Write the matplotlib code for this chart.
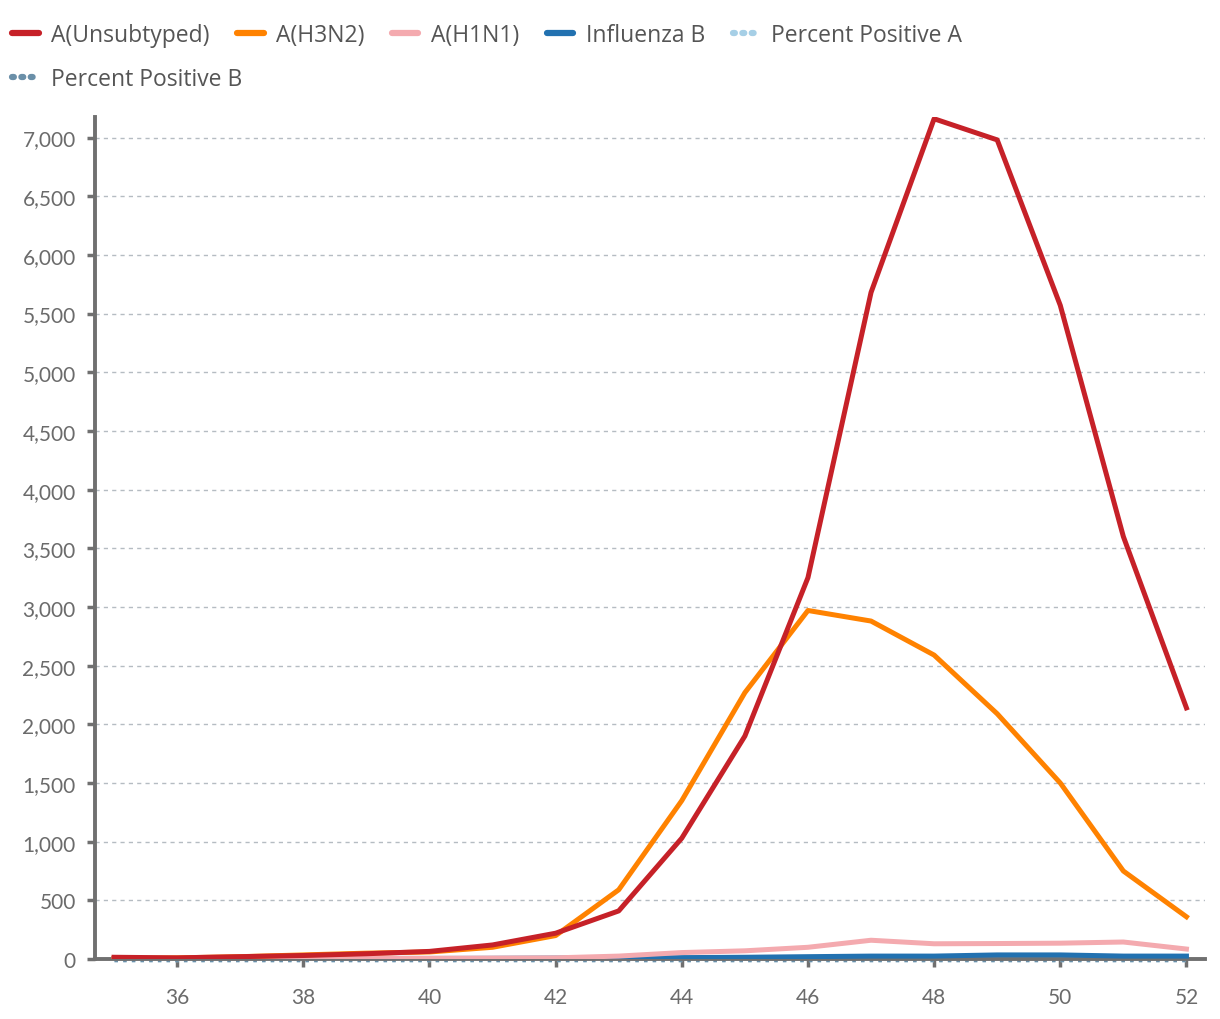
import matplotlib
matplotlib.use('Agg')
import matplotlib.pyplot as plt
from matplotlib.lines import Line2D
from matplotlib.ticker import FuncFormatter, MultipleLocator

plt.rcParams['font.family'] = ['Lato', 'DejaVu Sans']

weeks = list(range(35, 53))
unsubtyped = [15, 10, 20, 30, 45, 65, 120, 220, 410, 1030, 1900, 3250, 5680, 7160, 6980, 5570, 3600, 2140]
h3n2 = [5, 10, 20, 35, 50, 60, 100, 200, 590, 1350, 2270, 2970, 2880, 2590, 2090, 1500, 750, 360]
h1n1 = [2, 2, 3, 4, 5, 6, 8, 10, 25, 55, 70, 100, 160, 130, 132, 135, 145, 85]
flu_b = [3, 3, 4, 4, 5, 5, 6, 8, 10, 12, 15, 20, 25, 25, 35, 35, 25, 25]
pct_a = [-12] * 18
pct_b = [-10] * 18

series = [
    ('A(Unsubtyped)', unsubtyped, '#c62128', '-'),
    ('A(H3N2)', h3n2, '#ff8200', '-'),
    ('A(H1N1)', h1n1, '#f4aaaf', '-'),
    ('Influenza B', flu_b, '#2271b0', '-'),
]

fig = plt.figure(figsize=(12.2, 10.2), dpi=100)
ax = fig.add_axes([0.078, 0.0588, 0.91, 0.8255])

# percent positive lines sit under everything at the baseline
ax.plot(weeks, pct_a, color='#a6cfe6', lw=2.5, ls=(0, (1, 1.5)), zorder=1, clip_on=False)
ax.plot(weeks, pct_b, color='#6a8fa8', lw=2.5, ls=(0, (1, 1.5)), zorder=1, clip_on=False)

for name, vals, col, ls in reversed(series):
    ax.plot(weeks, vals, color=col, lw=3.6, ls=ls, zorder=3)

ax.set_xlim(34.7, 52.3)
ax.set_ylim(0, 7175)
ax.xaxis.set_major_locator(MultipleLocator(2))
ax.yaxis.set_major_locator(MultipleLocator(500))
ax.yaxis.set_major_formatter(FuncFormatter(lambda v, p: f'{int(v):,}'))

ax.grid(axis='y', color='#b5bcc2', lw=1, ls=(0, (3, 3)), zorder=0)
ax.set_axisbelow(True)
for s in ['top', 'right']:
    ax.spines[s].set_visible(False)
for s in ['left', 'bottom']:
    ax.spines[s].set_color('#707070')
    ax.spines[s].set_linewidth(2.8)
    ax.spines[s].set_zorder(2)
ax.tick_params(axis='both', colors='#707070', width=2.5, length=6, labelsize=15,
               labelcolor='#6b6b6b')
ax.tick_params(axis='x', pad=14)
ax.tick_params(axis='y', pad=8)

legfont = {'family': ['Open Sans', 'DejaVu Sans'], 'size': 16.5}
handles1 = [Line2D([], [], color=c, lw=4.5, solid_capstyle='round') for _, _, c, _ in series]
handles1.append(Line2D([], [], color='#a6cfe6', lw=4.5, ls=(0, (0.3, 1.2)), dash_capstyle='round'))
labels1 = [n for n, _, _, _ in series] + ['Percent Positive A']
fig.legend(handles1, labels1, loc='center left', bbox_to_anchor=(0.01, 0.965), ncol=5,
           frameon=False, prop=legfont, handlelength=1.15, handletextpad=0.55,
           columnspacing=1.2, labelcolor='#555555', borderaxespad=0, borderpad=0)
handles2 = [Line2D([], [], color='#6a8fa8', lw=4.5, ls=(0, (0.3, 1.2)), dash_capstyle='round')]
fig.legend(handles2, ['Percent Positive B'], loc='center left', bbox_to_anchor=(0.01, 0.922),
           frameon=False, prop=legfont, handlelength=1.15, handletextpad=0.55,
           labelcolor='#555555', borderaxespad=0, borderpad=0)

fig.savefig('out.png', dpi=100)
